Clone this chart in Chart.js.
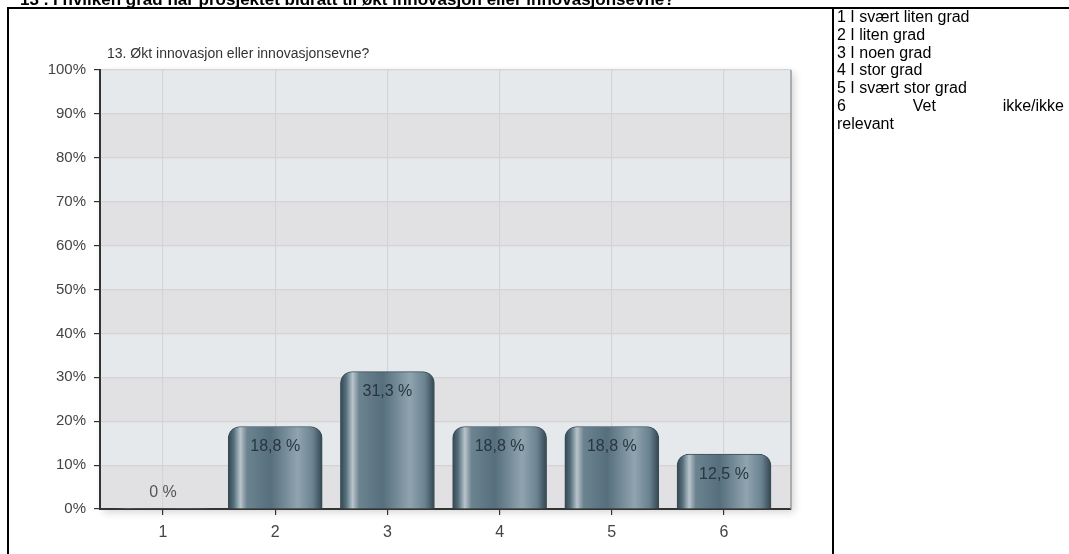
<!DOCTYPE html>
<html>
<head>
<meta charset="utf-8">
<script src="https://cdn.jsdelivr.net/npm/chart.js@4.4.1/dist/chart.umd.min.js"></script>
<style>
    body { margin: 0; background: #fff; font-family: Arial, "Liberation Sans", sans-serif; }
    #page { position: relative; width: 1069px; height: 554px; overflow: hidden; }
    #topTitle { position: absolute; left: 20px; top: -10px; font-weight: bold; font-size: 17px; white-space: nowrap; color: #000; }
    .line { position: absolute; background: #000; }
    #chartWrap { position: absolute; left: 0; top: 0; width: 833px; height: 554px; }
    #chartTitle { position: absolute; left: 107px; top: 45px; font-size: 14px; color: #333; white-space: nowrap; }
    #legend { position: absolute; left: 837px; top: 8px; width: 227px; font-size: 16px; line-height: 17.8px; color: #000; }
    #legend .just { display: flex; justify-content: space-between; }
</style>
</head>
<body>
<div id="page">
    <div id="chartWrap"><canvas id="barChart"></canvas></div>
    <div id="topTitle">13 . I hvilken grad har prosjektet bidratt til økt innovasjon eller innovasjonsevne?</div>
    <div class="line" style="left:7px; top:7px; width:1062px; height:2px;"></div>
    <div class="line" style="left:7px; top:7px; width:2px; height:547px;"></div>
    <div class="line" style="left:832px; top:7px; width:2px; height:547px;"></div>
    <div id="chartTitle"></div>
    <div id="legend"></div>
</div>
<script>
// 데이터
const chartTitle = '13. Økt innovasjon eller innovasjonsevne?';
const categories = ['1', '2', '3', '4', '5', '6'];
const percentages = [0, 18.8, 31.3, 18.8, 18.8, 12.5];
const valueLabels = ['0 %', '18,8 %', '31,3 %', '18,8 %', '18,8 %', '12,5 %'];
const yTicks = [0, 10, 20, 30, 40, 50, 60, 70, 80, 90, 100];
const legendItems = [
    '1 I svært liten grad',
    '2 I liten grad',
    '3 I noen grad',
    '4 I stor grad',
    '5 I svært stor grad',
    '6 Vet ikke/ikke relevant'
];

// 텍스트 채우기
document.getElementById('chartTitle').textContent = chartTitle;

const legend = document.getElementById('legend');
legendItems.forEach((item, i) => {
    if (i === legendItems.length - 1) {
        // 마지막 줄은 양쪽 정렬 후 줄바꿈
        const words = item.split(' ');
        const last = words.pop();
        const row = document.createElement('div');
        row.className = 'just';
        words.forEach(w => {
            const s = document.createElement('span');
            s.textContent = w;
            row.appendChild(s);
        });
        legend.appendChild(row);
        const rest = document.createElement('div');
        rest.textContent = last;
        legend.appendChild(rest);
    } else {
        const row = document.createElement('div');
        row.textContent = item;
        legend.appendChild(row);
    }
});

// 막대 그라데이션
function barGradient(ctx) {
    const chart = ctx.chart;
    if (ctx.type !== 'data' || !chart.chartArea || !chart.scales.x) return '#5c7482';
    const cx = chart.scales.x.getPixelForValue(ctx.dataIndex + 1);
    const g = chart.ctx.createLinearGradient(cx - 47, 0, cx + 47, 0);
    g.addColorStop(0.00, '#33454e');
    g.addColorStop(0.06, '#55707d');
    g.addColorStop(0.13, '#b9c4ca');
    g.addColorStop(0.20, '#6c8390');
    g.addColorStop(0.45, '#566f7c');
    g.addColorStop(0.74, '#8fa4af');
    g.addColorStop(0.90, '#6a8290');
    g.addColorStop(1.00, '#33464f');
    return g;
}

// 배경 밴드
const plotBackground = {
    id: 'plotBackground',
    beforeDraw(chart) {
        const { ctx, chartArea: a, scales: { y } } = chart;
        ctx.save();
        ctx.shadowColor = 'rgba(0,0,0,0.18)';
        ctx.shadowBlur = 8;
        ctx.shadowOffsetX = 3;
        ctx.shadowOffsetY = 3;
        ctx.fillStyle = '#e1e1e3';
        ctx.fillRect(a.left, a.top, a.right - a.left, a.bottom - a.top);
        ctx.restore();
        ctx.save();
        for (let k = 0; k < yTicks.length - 1; k++) {
            const top = y.getPixelForValue(yTicks[k + 1]);
            const bot = y.getPixelForValue(yTicks[k]);
            ctx.fillStyle = k % 2 === 1 ? '#e6e9ec' : '#e1e1e3';
            ctx.fillRect(a.left, top, a.right - a.left, bot - top);
        }
        ctx.restore();
    },
    afterDraw(chart) {
        const { ctx, chartArea: a } = chart;
        ctx.save();
        ctx.strokeStyle = '#9a9a9a';
        ctx.lineWidth = 1.5;
        ctx.beginPath();
        ctx.moveTo(a.right, a.top);
        ctx.lineTo(a.right, a.bottom);
        ctx.stroke();
        ctx.restore();
    }
};

// 값 라벨
const valueLabelPlugin = {
    id: 'valueLabelPlugin',
    afterDatasetsDraw(chart) {
        const { ctx } = chart;
        const meta = chart.getDatasetMeta(0);
        ctx.save();
        ctx.font = '16px Arial, "Liberation Sans", sans-serif';
        ctx.textAlign = 'center';
        ctx.textBaseline = 'middle';
        meta.data.forEach((bar, i) => {
            if (percentages[i] === 0) {
                ctx.fillStyle = '#555';
                ctx.fillText(valueLabels[i], bar.x, bar.base - 16);
            } else {
                ctx.fillStyle = '#27363f';
                ctx.fillText(valueLabels[i], bar.x, bar.y + 20);
            }
        });
        ctx.restore();
    }
};

const chart = new Chart(document.getElementById('barChart').getContext('2d'), {
    type: 'bar',
    data: {
        datasets: [{
            data: percentages.map((v, i) => ({ x: i + 1, y: v })),
            backgroundColor: barGradient,
            borderColor: '#3a4d57',
            borderWidth: ctx => (ctx.raw && ctx.raw.y === 0 ? 0 : 1),
            borderSkipped: 'bottom',
            borderRadius: { topLeft: 12, topRight: 12, bottomLeft: 0, bottomRight: 0 },
            barThickness: 94
        }]
    },
    options: {
        responsive: true,
        maintainAspectRatio: false,
        animation: false,
        layout: { padding: { top: 70, right: 42, bottom: 0, left: 0 } },
        plugins: {
            legend: { display: false },
            tooltip: { enabled: false }
        },
        scales: {
            x: {
                type: 'linear',
                offset: false,
                min: 0.4385,
                max: 6.597,
                afterFit: s => { s.height = 45; },
                grid: { offset: false, color: '#d4d4d4', tickColor: '#333', tickLength: 6, lineWidth: 1.2 },
                border: { color: '#333', width: 2 },
                ticks: {
                    stepSize: 1,
                    includeBounds: false,
                    padding: 8,
                    color: '#444',
                    font: { family: 'Arial, "Liberation Sans", sans-serif', size: 16 },
                    callback: v => categories[v - 1]
                }
            },
            y: {
                min: 0,
                max: 100,
                afterFit: s => { s.width = 100; },
                grid: { color: '#d4d4d4', tickColor: '#333', tickLength: 6, lineWidth: 1.2 },
                border: { color: '#333', width: 2 },
                ticks: {
                    stepSize: 10,
                    padding: 8,
                    color: '#444',
                    font: { family: 'Arial, "Liberation Sans", sans-serif', size: 15 },
                    callback: v => v + '%'
                }
            }
        }
    },
    plugins: [plotBackground, valueLabelPlugin]
});
</script>
</body>
</html>
